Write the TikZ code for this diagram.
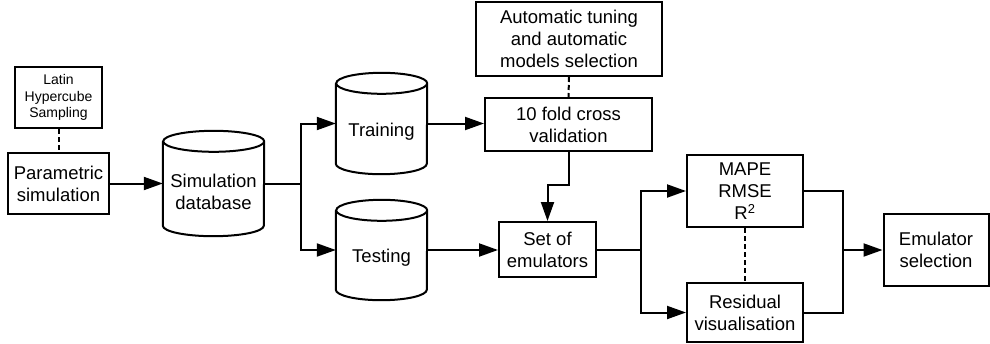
\documentclass[tikz,border=0pt]{standalone}
\usepackage{fontspec}
\setmainfont{Liberation Sans}
\usetikzlibrary{arrows.meta}
\tikzset{
  lw/.style={line width=2pt},
  box/.style={draw, lw, rectangle, inner sep=0pt, align=center, font=\fontsize{18.5}{22}\selectfont},
  smallbox/.style={box, font=\fontsize{14}{16.7}\selectfont},
  cylarea/.style={rectangle, inner sep=0pt, draw=none},
  txt/.style={inner sep=0pt, align=center, font=\fontsize{18.5}{22}\selectfont},
  conn/.style={lw, line join=miter},
  arr/.style={conn, -{Triangle[length=19pt,width=13pt]}},
  dsh/.style={lw, dash pattern=on 5pt off 3pt},
}
\newcommand{\drawcylinder}[3]{%
  \draw[lw] ([yshift=-#3]#1.north west) -- ([yshift=#3]#1.south west)
    arc[start angle=180,end angle=360,x radius=#2,y radius=#3]
    -- ([yshift=-#3]#1.north east)
    arc[start angle=0,end angle=360,x radius=#2,y radius=#3];}
\begin{document}
\begin{tikzpicture}[x=1pt,y=-1pt]
\useasboundingbox (0,0) rectangle (990,343);
% boxes
\node[smallbox, minimum width=87pt, minimum height=61pt] (lhs) at (58.5,97.5) {Latin\\Hypercube\\Sampling};
\node[box, minimum width=101pt, minimum height=61pt] (param) at (58.5,183.5) {Parametric\\simulation};
\node[cylarea, minimum width=101pt, minimum height=105pt] (db) at (213.5,183.5) {};
\node[cylarea, minimum width=91pt, minimum height=101pt] (train) at (381.5,123.5) {};
\node[cylarea, minimum width=91pt, minimum height=100pt] (test) at (381.5,250) {};
\node[txt] (dbt) at ([yshift=-8pt]db.center) {Simulation\\database};
\node[txt] (traint) at ([yshift=-8pt]train.center) {Training};
\node[txt] (testt) at ([yshift=-8pt]test.center) {Testing};
\node[box, minimum width=186pt, minimum height=74pt] (auto) at (569,39) {Automatic tuning\\and automatic\\models selection};
\node[box, minimum width=167pt, minimum height=53pt] (fold) at (568.5,124.5) {10 fold cross\\validation};
\node[box, minimum width=97pt, minimum height=55pt] (soe) at (547.5,249.5) {Set of\\emulators};
\node[box, minimum width=116pt, minimum height=72pt] (mape) at (745,191) {MAPE\\RMSE\\R\textsuperscript{2}};
\node[box, minimum width=116pt, minimum height=59pt] (resid) at (745,312.5) {Residual\\visualisation};
\node[box, minimum width=105pt, minimum height=72pt] (emsel) at (936,250) {Emulator\\selection};
% cylinders
\drawcylinder{db}{50.5pt}{10.5pt}
\drawcylinder{train}{45.5pt}{10.5pt}
\drawcylinder{test}{45.5pt}{10.5pt}
% coordinates
\coordinate (s1) at (300.5,183.5);
\coordinate (k) at (568.5,185);
\coordinate (s2) at (641,249.5);
\coordinate (j) at (843,250);
% connectors
\draw[dsh] (lhs.south) -- (param.north);
\draw[arr] (param.east) -- (db.west);
\draw[conn] (db.east) -- (s1);
\draw[arr] (s1) |- (train.west);
\draw[arr] (s1) |- (test.west);
\draw[arr] (train.east) -- (train.east -| fold.west);
\draw[dsh] (auto.south) -- (fold.north);
\draw[arr] (fold.south) -- (k) -| (soe.north);
\draw[arr] (test.east) -- (test.east -| soe.west);
\draw[conn] (soe.east) -- (s2);
\draw[arr] (s2) |- (mape.west);
\draw[arr] (s2) |- (resid.west);
\draw[dsh] (mape.south) -- (resid.north);
\draw[conn] (mape.east) -| (j);
\draw[conn] (resid.east) -| (j);
\draw[arr] (j) -- (emsel.west);
\end{tikzpicture}
\end{document}
